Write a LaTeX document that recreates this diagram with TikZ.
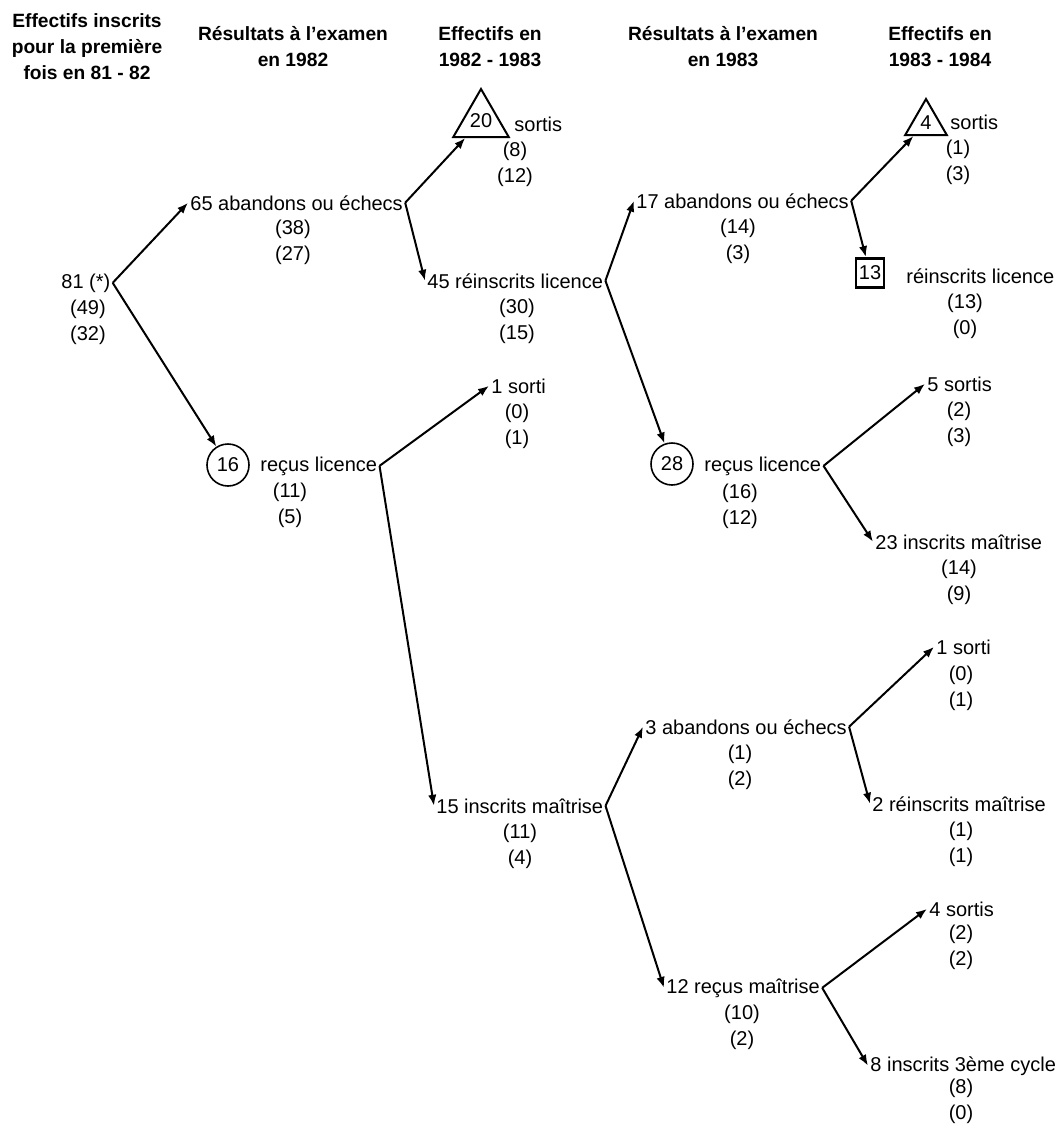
\documentclass[tikz,border=0pt]{standalone}
\usepackage{fontspec}
\setmainfont{Liberation Sans}
\usetikzlibrary{arrows.meta,shapes.geometric}
\begin{document}
\begin{tikzpicture}[x=0.5pt,y=-0.5pt,
    every node/.style={font=\fontsize{10}{13}\selectfont},
    head/.style={align=center,anchor=base,inner sep=0pt,font=\fontsize{9.6}{13}\selectfont\bfseries},
    item/.style={anchor=base west,inner sep=1pt},
    vals/.style={align=center,anchor=base,inner sep=0pt},
    flow/.style={-{Latex[length=5.5pt,width=4.2pt]},line width=1pt},
    ring/.style={draw,circle,line width=0.8pt,minimum size=21pt,inner sep=0pt},
    tri/.style={draw,regular polygon,regular polygon sides=3,line width=1pt,inner sep=0pt},
    boxed/.style={draw,line width=1.4pt,minimum width=14pt,minimum height=14.5pt,inner sep=0pt}]
    \useasboundingbox (0,0) rectangle (1062,1125);
    \node[head] (h1) at (87,79) {Effectifs inscrits\\pour la première\\fois en 81 - 82};
    \node[head] (h2) at (293,66) {Résultats à l’examen\\en 1982};
    \node[head] (h3) at (490,66) {Effectifs en\\1982 - 1983};
    \node[head] (h4) at (723,66) {Résultats à l’examen\\en 1983};
    \node[head] (h5) at (940,66) {Effectifs en\\1983 - 1984};

    \node[item] (n81) at (59,288) {81 (*)};
    \node[vals] (v81) at (88,340) {(49)\\(32)};
    \node[item] (n65) at (188,210) {65 abandons ou échecs};
    \node[vals] (v65) at (293,260) {(38)\\(27)};
    \node[ring] (c16) at (228,465) {16};
    \node[item] (n16) at (258,471) {reçus licence};
    \node[vals] (v16) at (290,523) {(11)\\(5)};

    \node[tri,minimum size=32pt] (t20) at (481,121) {20};
    \node[item] (n20) at (512,131) {sortis};
    \node[vals] (v20) at (515,182) {(8)\\(12)};
    \node[item] (n45) at (425,288) {45 réinscrits licence};
    \node[vals] (v45) at (517,339) {(30)\\(15)};
    \node[item] (n1a) at (489,393) {1 sorti};
    \node[vals] (v1a) at (517,444) {(0)\\(1)};
    \node[item] (n15) at (434,813) {15 inscrits maîtrise};
    \node[vals] (v15) at (520,864) {(11)\\(4)};

    \node[item] (n17) at (634,208) {17 abandons ou échecs};
    \node[vals] (v17) at (738,259) {(14)\\(3)};
    \node[ring] (c28) at (672,464) {28};
    \node[item] (n28) at (702,471) {reçus licence};
    \node[vals] (v28) at (740,524) {(16)\\(12)};
    \node[item] (n3) at (643,734) {3 abandons ou échecs};
    \node[vals] (v3) at (740,785) {(1)\\(2)};
    \node[item] (n12) at (664,993) {12 reçus maîtrise};
    \node[vals] (v12) at (742,1045) {(10)\\(2)};

    \node[tri,minimum size=24pt] (t4) at (926,123) {4};
    \node[item] (n4) at (948,129) {sortis};
    \node[vals] (v4) at (958,180) {(1)\\(3)};
    \node[boxed] (b13) at (870,273) {13};
    \node[item] (n13) at (904,283) {réinscrits licence};
    \node[vals] (v13) at (965,334) {(13)\\(0)};
    \node[item] (n5) at (925,391) {5 sortis};
    \node[vals] (v5) at (959,442) {(2)\\(3)};
    \node[item] (n23) at (873,549) {23 inscrits maîtrise};
    \node[vals] (v23) at (959,600) {(14)\\(9)};
    \node[item] (n1b) at (934,654) {1 sorti};
    \node[vals] (v1b) at (961,706) {(0)\\(1)};
    \node[item] (n2) at (870,811) {2 réinscrits maîtrise};
    \node[vals] (v2) at (961,862) {(1)\\(1)};
    \node[item] (n4b) at (927,916) {4 sortis};
    \node[vals] (v4b) at (961,965) {(2)\\(2)};
    \node[item] (n8) at (868,1071) {8 inscrits 3ème cycle};
    \node[vals] (v8) at (961,1119) {(8)\\(0)};

    \draw[flow] (n81.east) -- (n65.west);
    \draw[flow] (n81.east) -- (c16);
    \draw[flow] (n65.east) -- (t20);
    \draw[flow] (n65.east) -- (n45.west);
    \draw[flow] (n16.east) -- (n1a.west);
    \draw[flow] (n16.east) -- (n15.west);
    \draw[flow] (n45.east) -- (n17.west);
    \draw[flow] (n45.east) -- (c28);
    \draw[flow] (n17.east) -- (t4);
    \draw[flow] (n17.east) -- (b13);
    \draw[flow] (n28.east) -- (n5.west);
    \draw[flow] (n28.east) -- (n23.west);
    \draw[flow] (n15.east) -- (n3.west);
    \draw[flow] (n15.east) -- (n12.west);
    \draw[flow] (n3.east) -- (n1b.west);
    \draw[flow] (n3.east) -- (n2.west);
    \draw[flow] (n12.east) -- (n4b.west);
    \draw[flow] (n12.east) -- (n8.west);
\end{tikzpicture}
\end{document}
